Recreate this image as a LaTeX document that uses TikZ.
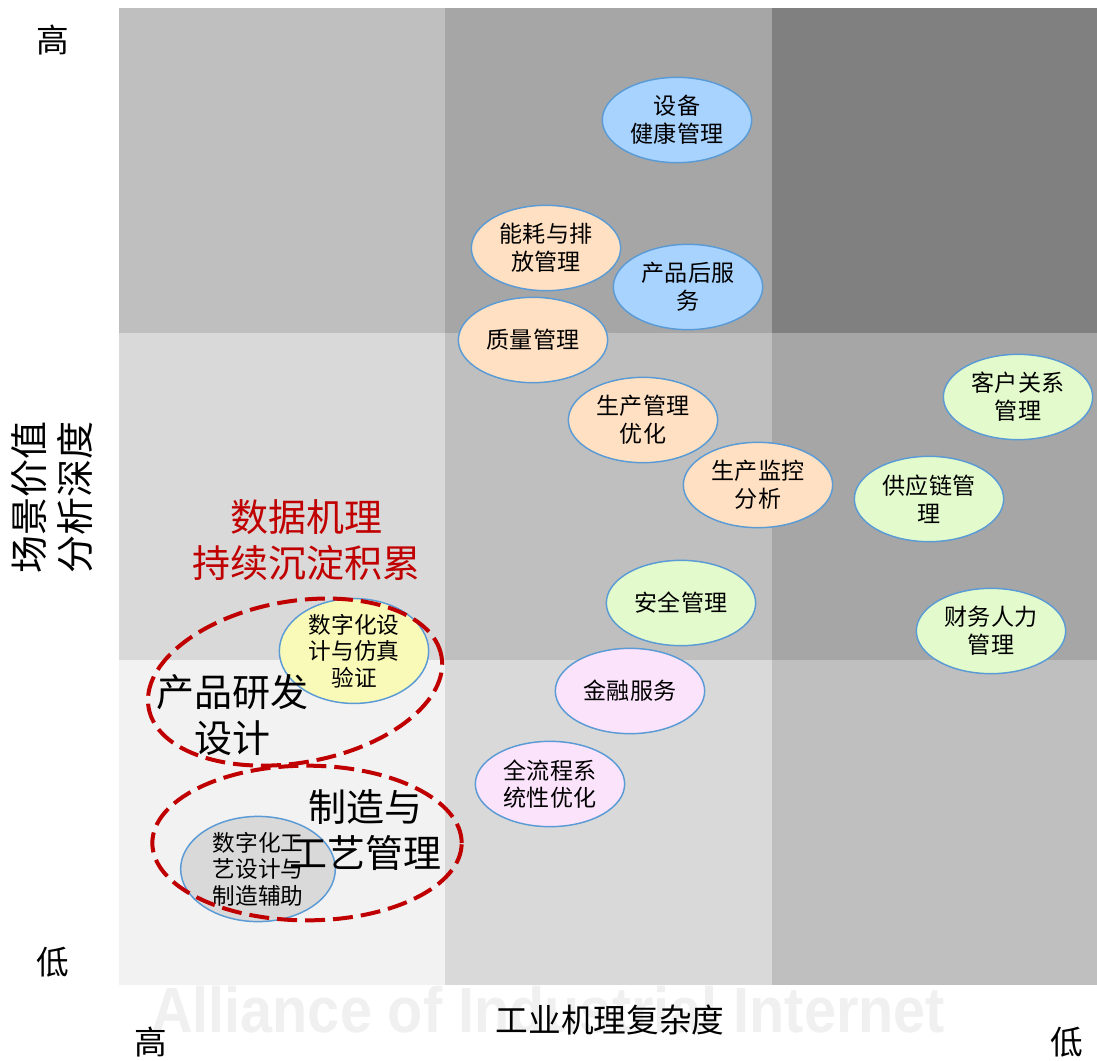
\documentclass[tikz,border=0pt]{standalone}
\usepackage{fontspec}
\setmainfont{Noto Sans CJK SC}
\newfontfamily\markfont{Liberation Sans}
\usetikzlibrary{shapes}

\definecolor{shadeA}{RGB}{242,242,242}
\definecolor{shadeB}{RGB}{217,217,217}
\definecolor{shadeC}{RGB}{191,191,191}
\definecolor{shadeD}{RGB}{166,166,166}
\definecolor{shadeE}{RGB}{128,128,128}
\definecolor{rimblue}{RGB}{91,155,213}
\definecolor{fillblue}{RGB}{169,211,255}
\definecolor{fillpeach}{RGB}{255,224,194}
\definecolor{fillgreen}{RGB}{227,250,204}
\definecolor{fillpink}{RGB}{252,227,252}
\definecolor{fillyellow}{RGB}{249,249,184}
\definecolor{fillgray}{RGB}{217,217,217}
\definecolor{domred}{RGB}{192,0,0}

\begin{document}
\begin{tikzpicture}[x=0.75pt,y=-0.75pt]
                \tikzstyle{scene}=[ellipse,draw=rimblue,line width=1.1pt,minimum width=112pt,minimum height=64pt,inner sep=0pt,align=center,font=\fontsize{17.3}{20.8}\selectfont]
                \tikzstyle{domainring}=[draw=domred,line width=3pt,dash pattern=on 15pt off 6pt]
                \tikzstyle{biglabel}=[align=center,font=\fontsize{28.5}{34}\selectfont]
                \tikzstyle{axislabel}=[align=center,font=\fontsize{24.5}{30}\selectfont]

                \useasboundingbox (0,0) rectangle (1097,1061);
                \fill[white] (0,0) rectangle (1097,1061);

                \coordinate (P) at (295,682);
                \coordinate (M) at (307,843);

                \fill[shadeC] (119,8) rectangle (445,333);
                \fill[shadeD] (445,8) rectangle (772,333);
                \fill[shadeE] (772,8) rectangle (1097,333);
                \fill[shadeB] (119,333) rectangle (445,660);
                \fill[shadeC] (445,333) rectangle (772,660);
                \fill[shadeD] (772,333) rectangle (1097,660);
                \fill[shadeA] (119,660) rectangle (445,985);
                \fill[shadeB] (445,660) rectangle (772,985);
                \fill[shadeC] (772,660) rectangle (1097,985);

                \node (watermark) at (548,1010) [text=black!6,font=\markfont\bfseries\fontsize{48}{48}\selectfont,xscale=0.9] {Alliance of Industrial Internet};

                \node (health) at (677,120) [scene,fill=fillblue] {设备\\健康管理};
                \node (energy) at (546,248) [scene,fill=fillpeach] {能耗与排\\放管理};
                \node (aftersale) at (688,287) [scene,fill=fillblue] {产品后服\\务};
                \node (quality) at (533,340) [scene,fill=fillpeach] {质量管理};
                \node (prodmgmt) at (643,420) [scene,fill=fillpeach] {生产管理\\优化};
                \node (monitor) at (758,485) [scene,fill=fillpeach] {生产监控\\分析};
                \node (crm) at (1018,397) [scene,fill=fillgreen] {客户关系\\管理};
                \node (supply) at (929,499) [scene,fill=fillgreen] {供应链管\\理};
                \node (finance) at (991,631) [scene,fill=fillgreen] {财务人力\\管理};
                \node (safety) at (681,603) [scene,fill=fillgreen] {安全管理};
                \node (fintech) at (630,691) [scene,fill=fillpink] {金融服务};
                \node (fullflow) at (550,784) [scene,fill=fillpink] {全流程系\\统性优化};
                \node (digdesign) at (354,651) [scene,fill=fillyellow,minimum height=66pt,font=\fontsize{17}{20}\selectfont] {数字化设\\计与仿真\\验证};
                \node (digprocess) at (258,869) [scene,fill=fillgray,minimum width=116pt,font=\fontsize{17}{20}\selectfont] {数字化工\\艺设计与\\制造辅助};

                \draw[domainring,rotate around={10:(P)}] (P) ellipse (111.5pt and 60.5pt);
                \draw[domainring] (M) ellipse (116pt and 58pt);

                \node (accum) at (306,540) [biglabel,text=domred] {数据机理\\持续沉淀积累};
                \node (rnd) at (232,715) [biglabel] {产品研发\\设计};
                \node (craft) at (365,830) [biglabel] {制造与\\工艺管理};

                \node (vhigh) at (53,40) [axislabel] {高};
                \node (vlow) at (53,962) [axislabel] {低};
                \node (vaxis) at (52,497) [rotate=90,align=center,font=\fontsize{28.5}{35}\selectfont] {场景价值\\分析深度};
                \node (hhigh) at (151,1042) [axislabel] {高};
                \node (hlow) at (1067,1042) [axislabel] {低};
                \node (haxis) at (610,1020) [axislabel] {工业机理复杂度};
\end{tikzpicture}
\end{document}
